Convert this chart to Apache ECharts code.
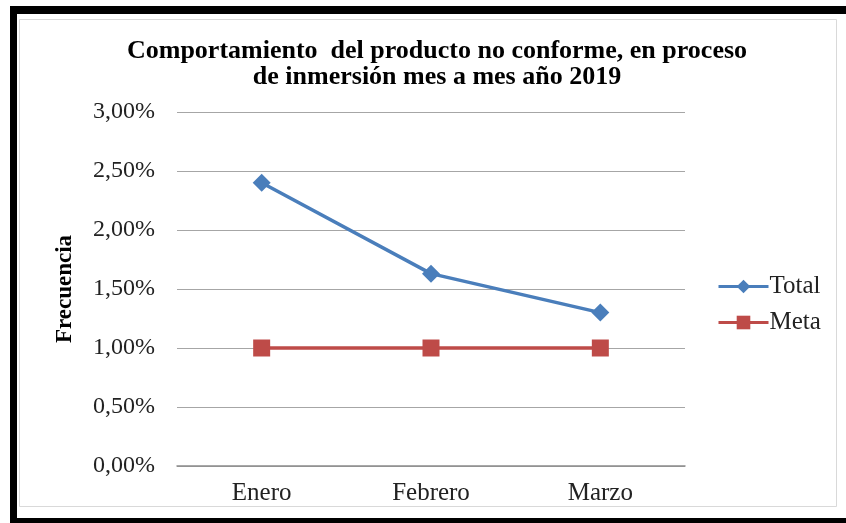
<!DOCTYPE html>
<html>
<head>
<meta charset="utf-8">
<script src="https://cdn.jsdelivr.net/npm/echarts@6/dist/echarts.min.js"></script>
<style>
  html, body { margin: 0; padding: 0; background: #fff; }
  #chart { width: 846px; height: 523px; }
</style>
</head>
<body>
<div id="chart"></div>
<script>
// Monthly non-conforming product rate (%) in the immersion process, 2019
const months = ['Enero', 'Febrero', 'Marzo'];
const totalValues = [2.40, 1.63, 1.30];
const metaValues = [1.00, 1.00, 1.00];
const yTicks = { min: 0, max: 3, step: 0.5 };

const serif = 'Liberation Serif, Times New Roman, serif';
const pct = v => v.toFixed(2).replace('.', ',') + '%';

const chart = echarts.init(document.getElementById('chart'), null, { renderer: 'canvas' });
chart.setOption({
  backgroundColor: '#fff',
  animation: false,
  graphic: [
    // frame around the chart
    { type: 'rect', shape: { x: 10, y: 6, width: 836, height: 8 }, style: { fill: '#000' }, silent: true },
    { type: 'rect', shape: { x: 10, y: 6, width: 7, height: 517 }, style: { fill: '#000' }, silent: true },
    { type: 'rect', shape: { x: 10, y: 518, width: 836, height: 5 }, style: { fill: '#000' }, silent: true },
    { type: 'rect', shape: { x: 19.5, y: 19.5, width: 817, height: 487 }, style: { fill: 'none', stroke: '#d9d9d9', lineWidth: 1 }, silent: true }
  ],
  title: {
    text: 'Comportamiento  del producto no conforme, en proceso\nde inmersión mes a mes año 2019',
    left: 432,
    textAlign: 'center',
    top: 33,
    textStyle: { fontFamily: serif, fontWeight: 'bold', fontSize: 26, lineHeight: 26, color: '#000' }
  },
  legend: {
    orient: 'vertical',
    left: 712,
    top: 269,
    itemWidth: 50,
    itemHeight: 17,
    itemGap: 11,
    lineStyle: { width: 3 },
    textStyle: { fontFamily: serif, fontSize: 25, color: '#222', padding: [0, 0, 0, -4] },
    data: ['Total', 'Meta']
  },
  grid: { left: 177, right: 161, top: 112, bottom: 57 },
  xAxis: {
    type: 'category',
    data: months,
    boundaryGap: true,
    axisLine: { lineStyle: { color: '#8c8c8c', width: 1.5 } },
    axisTick: { show: false },
    axisLabel: { fontFamily: serif, fontSize: 25, color: '#222', margin: 15 }
  },
  yAxis: {
    type: 'value',
    min: yTicks.min,
    max: yTicks.max,
    interval: yTicks.step,
    name: 'Frecuencia',
    nameLocation: 'middle',
    nameGap: 100,
    nameTextStyle: { fontFamily: serif, fontWeight: 'bold', fontSize: 23, color: '#000' },
    axisLine: { show: false },
    axisTick: { show: false },
    splitLine: { lineStyle: { color: '#a6a6a6', width: 1 } },
    axisLabel: { fontFamily: serif, fontSize: 24, color: '#222', margin: 22, formatter: pct }
  },
  series: [
    {
      name: 'Total',
      type: 'line',
      data: totalValues,
      symbol: 'diamond',
      symbolSize: 18,
      lineStyle: { color: '#4a7ebb', width: 3.5 },
      itemStyle: { color: '#4a7ebb' }
    },
    {
      name: 'Meta',
      type: 'line',
      data: metaValues,
      symbol: 'rect',
      symbolSize: 17,
      lineStyle: { color: '#be4b48', width: 3.5 },
      itemStyle: { color: '#be4b48' }
    }
  ]
});
</script>
</body>
</html>
